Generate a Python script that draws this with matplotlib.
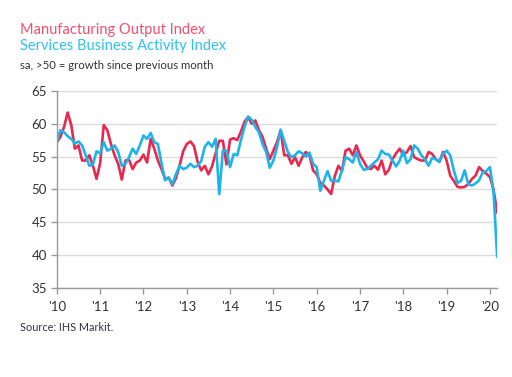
import matplotlib
matplotlib.use('Agg')
import matplotlib.pyplot as plt
import numpy as np

plt.rcParams['font.family'] = ['Lato', 'DejaVu Sans']

# monthly, Jan 2010 .. Mar 2020
manufacturing = [
    57.2, 58.0, 59.5, 61.7, 59.8, 56.2, 56.7, 54.4, 54.4, 55.2, 53.6, 51.6,
    54.0, 59.8, 59.0, 56.9, 55.2, 53.9, 51.5, 54.4, 54.5, 53.1, 54.1, 54.4,
    55.3, 54.1, 57.7, 56.2, 54.4, 53.1, 51.6, 51.8, 50.6, 51.7, 53.6, 55.8,
    56.9, 57.3, 56.6, 54.2, 52.9, 53.6, 52.3, 53.5, 55.5, 57.4, 57.4, 53.8,
    57.6, 57.8, 57.5, 58.8, 60.3, 61.0, 60.0, 60.5, 59.0, 58.0, 56.2, 54.6,
    55.9, 57.2, 59.0, 55.2, 55.2, 53.9, 54.9, 53.6, 54.9, 55.7, 55.2, 52.9,
    52.3, 51.0, 50.6, 50.0, 49.3, 52.0, 53.6, 52.8, 55.9, 56.2, 55.2, 56.7,
    55.2, 54.3, 53.3, 53.1, 53.6, 53.0, 54.4, 52.3, 53.0, 54.6, 55.5, 56.2,
    55.2, 55.7, 56.6, 54.9, 54.6, 54.4, 54.4, 55.7, 55.4, 54.6, 54.2, 55.7,
    54.4, 52.1, 51.3, 50.4, 50.3, 50.4, 50.8, 51.6, 52.1, 53.4, 52.8, 52.4,
    51.9, 50.0, 46.5,
]
services = [
    57.4, 59.0, 58.7, 58.1, 57.7, 57.0, 57.3, 56.7, 55.2, 53.6, 53.8, 55.8,
    55.5, 57.2, 55.9, 56.2, 56.7, 55.7, 53.6, 53.9, 54.9, 56.2, 55.4, 56.7,
    58.2, 57.7, 58.6, 57.2, 56.9, 54.0, 51.4, 51.8, 50.8, 52.3, 53.6, 53.1,
    53.3, 53.9, 53.4, 53.6, 54.3, 56.5, 57.2, 56.5, 57.7, 49.3, 55.9, 55.9,
    53.4, 55.4, 55.2, 57.5, 59.5, 61.1, 60.6, 59.5, 58.7, 56.9, 55.7, 53.3,
    54.4, 56.4, 59.1, 57.4, 55.7, 54.9, 55.2, 55.8, 55.5, 55.0, 55.6, 53.9,
    53.4, 49.8, 51.3, 52.8, 51.3, 51.4, 51.2, 52.9, 54.9, 54.6, 54.1, 55.7,
    53.9, 53.0, 53.1, 53.6, 54.1, 54.6, 55.9, 55.4, 55.3, 54.4, 53.5, 54.4,
    55.9, 54.0, 54.6, 56.7, 56.2, 55.2, 54.6, 53.6, 54.8, 54.6, 54.2, 55.4,
    55.9, 55.2, 52.9, 51.0, 51.3, 52.9, 50.8, 50.6, 50.9, 51.4, 52.6, 52.8,
    53.4, 49.6, 39.8,
]
year_labels = ["'10", "'11", "'12", "'13", "'14", "'15", "'16", "'17", "'18", "'19", "'20"]
yticks = [35, 40, 45, 50, 55, 60, 65]

red = '#e8294f'
blue = '#1db4ea'
grey = '#9a9a9a'

months = np.arange(len(manufacturing))

fig = plt.figure(figsize=(5.12, 3.77), dpi=100)
ax = fig.add_axes([0.111, 0.236, 0.860, 0.523])

ax.plot(months, manufacturing, color=red, lw=1.9, solid_joinstyle='round')
ax.plot(months, services, color=blue, lw=1.9, solid_joinstyle='round')

ax.set_ylim(35, 65)
ax.set_xlim(0, 122)
ax.set_yticks(yticks)
ax.set_xticks(np.arange(0, 121, 12))
ax.set_xticklabels(year_labels)
ax.yaxis.grid(True, color='#dcdcdc', lw=1.0)
ax.set_axisbelow(True)

for s in ['top', 'right']:
    ax.spines[s].set_visible(False)
for s in ['left', 'bottom']:
    ax.spines[s].set_color(grey)
    ax.spines[s].set_linewidth(1.0)
ax.tick_params(axis='both', colors=grey, length=4, width=1.0, labelsize=9.5,
               labelcolor='#333333', pad=3)
ax.tick_params(axis='x', pad=5)

fig.text(0.039, 0.920, 'Manufacturing Output Index', color='#f0506e', fontsize=10.5, va='center')
fig.text(0.039, 0.878, 'Services Business Activity Index', color='#2ec0f0', fontsize=10.5, va='center')
fig.text(0.039, 0.825, 'sa, >50 = growth since previous month', color='#333333', fontsize=8.2, va='center')
fig.text(0.039, 0.132, 'Source: IHS Markit.', color='#333344', fontsize=7.8, va='center')

fig.savefig('out.png', dpi=100)
